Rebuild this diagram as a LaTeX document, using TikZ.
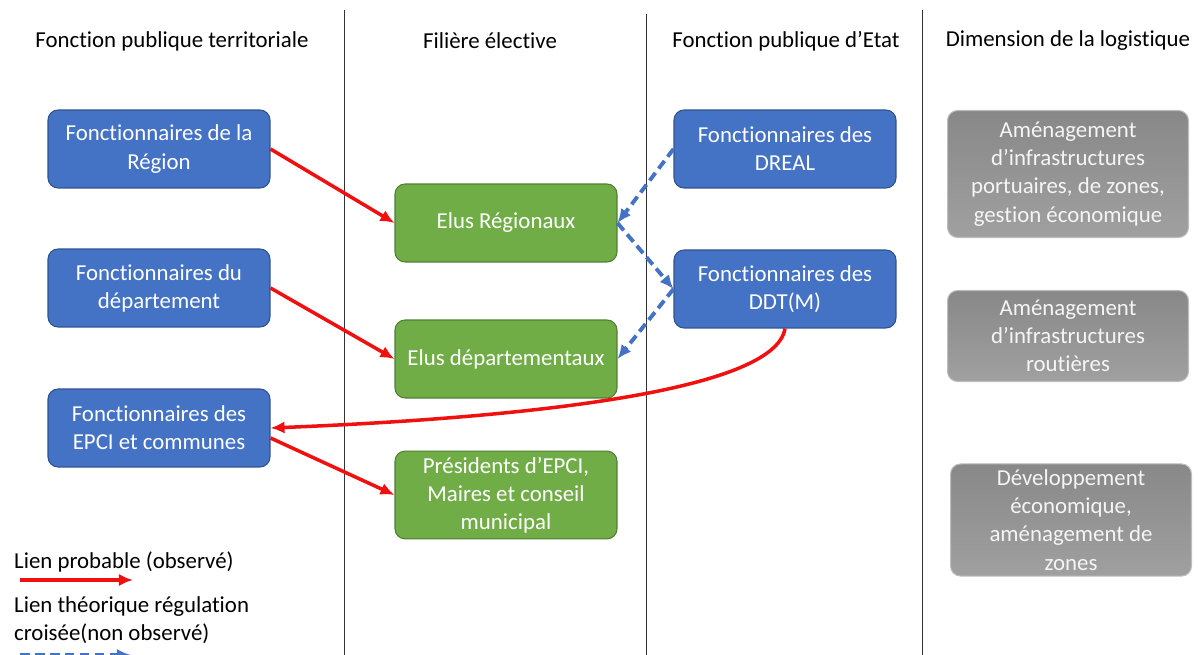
\documentclass[tikz,border=0pt]{standalone}
\usepackage{fontspec}
\setmainfont[RawFeature={-liga;-clig;-calt;-dlig}]{Carlito}
\usetikzlibrary{arrows.meta,positioning,calc}

\definecolor{bleu}{HTML}{4472C4}
\definecolor{bleufonce}{HTML}{2F528F}
\definecolor{vert}{HTML}{70AD47}
\definecolor{vertfonce}{HTML}{507E32}
\definecolor{gris}{HTML}{A0A0A0}
\definecolor{rouge}{HTML}{F01010}

\begin{document}
\begin{tikzpicture}[
        x=0.02cm, y=-0.02cm,
        box/.style={
          rounded corners=0.2cm,
          align=center,
          minimum width=4.44cm,
          minimum height=1.56cm,
          text=white,
          font=\fontsize{13}{16}\selectfont,
          line width=0.6pt
        },
        fpt/.style={box, fill=bleu, draw=bleufonce},
        elu/.style={box, fill=vert, draw=vertfonce},
        logi/.style={box, top color=gris!85!black, bottom color=gris, draw=gris!70, text=white!96!black, minimum width=4.82cm},
        head/.style={font=\fontsize{13}{16}\selectfont},
        sep/.style={draw=black!80, line width=0.5pt},
        probable/.style={->, draw=rouge, line width=2pt},
        theorique/.style={->, draw=bleu, line width=2.2pt, dash pattern=on 5.5pt off 3pt},
        >={Latex[length=8pt,width=7pt]}
      ]

        \useasboundingbox (0,0) rectangle (1198,655);

        % colonnes
        \draw[sep] (344,10) -- (344,655);
        \draw[sep] (646,14) -- (646,655);
        \draw[sep] (922,10) -- (922,655);

        \node[head] (h1) at (172,41) {Fonction publique territoriale};
        \node[head] (h2) at (490,41) {Filière élective};
        \node[head] (h3) at (786,41) {Fonction publique d’Etat};
        \node[head] (h4) at (1068,41) {Dimension de la logistique};

        % fonction publique territoriale
        \node[fpt] (region) at (159,149) {Fonctionnaires de la\\Région};
        \node[fpt] (dept) at (159,288) {Fonctionnaires du\\département};
        \node[fpt] (epci) at (159,428) {Fonctionnaires des\\EPCI et communes};

        % elus
        \node[elu] (elusreg) at (506,223) {Elus Régionaux};
        \node[elu] (elusdep) at (506,359) {Elus départementaux};
        \node[elu] (maires) at (506,495) {Présidents d’EPCI,\\Maires et conseil\\municipal};

        % etat
        \node[fpt] (dreal) at (785,149) {Fonctionnaires des\\DREAL};
        \node[fpt] (ddt) at (785,289) {Fonctionnaires des\\DDT(M)};

        % logistique
        \node[logi, minimum height=2.54cm] (port) at (1068,174) {Aménagement\\d’infrastructures\\portuaires, de zones,\\gestion économique};
        \node[logi, minimum height=1.82cm] (route) at (1068,336) {Aménagement\\d’infrastructures\\routières};
        \node[logi, minimum height=2.1cm] (eco) at (1071,520) {Développement\\économique,\\aménagement de\\zones};

        % liens
        \draw[probable] (region.east) -- (elusreg.west);
        \draw[probable] (dept.east) -- (elusdep.west);
        \draw[probable] ($(epci.east)+(0,10)$) -- (maires.west);
        \draw[probable] (ddt.south) .. controls (775,392) and (520,418) .. (epci.east);

        \draw[theorique] (dreal.west) -- (elusreg.east);
        \draw[theorique] (elusreg.east) -- (ddt.west);
        \draw[theorique] (ddt.west) -- (elusdep.east);

        % legende
        \node[head, anchor=west] (leg1) at (8,562) {Lien probable (observé)};
        \coordinate (l1a) at (20,580);
        \coordinate (l1b) at (133,580);
        \draw[probable] (l1a) -- (l1b);
        \node[head, anchor=west, align=left] (leg2) at (8,620) {Lien théorique régulation\\croisée(non observé)};
        \coordinate (l2a) at (20,655);
        \coordinate (l2b) at (131,655);
        \draw[theorique] (l2a) -- (l2b);

      \end{tikzpicture}
\end{document}
